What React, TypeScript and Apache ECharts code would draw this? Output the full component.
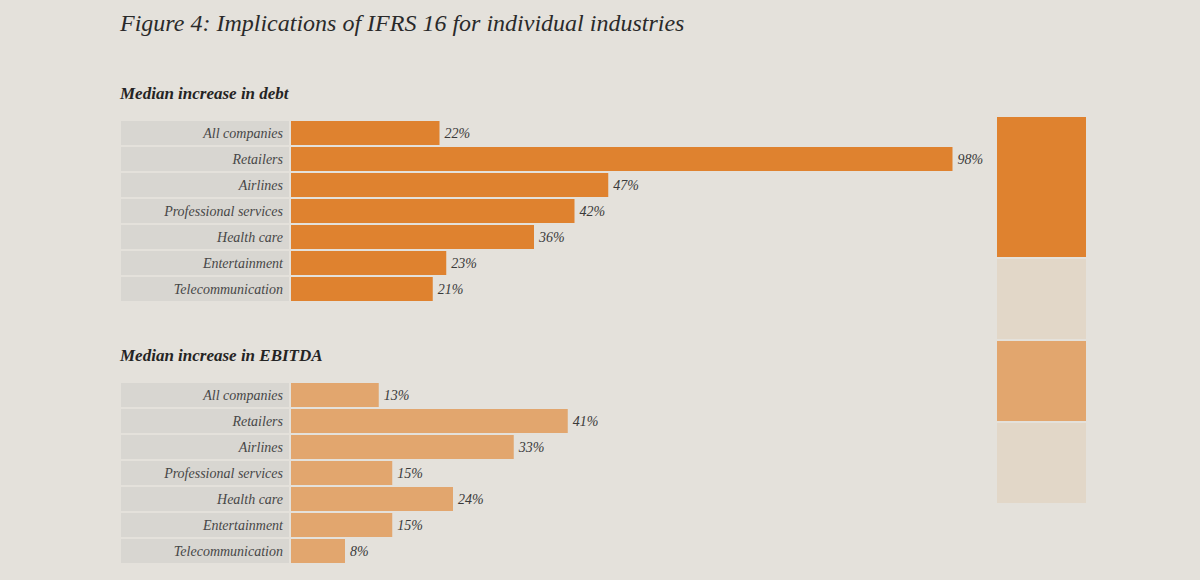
import React, { useEffect, useRef } from "react";
import * as echarts from "echarts";

// Industries shown in both panels, top to bottom
const industries = [
  "All companies",
  "Retailers",
  "Airlines",
  "Professional services",
  "Health care",
  "Entertainment",
  "Telecommunication",
];

// Median increase in debt (%)
const debtIncrease = [22, 98, 47, 42, 36, 23, 21];

// Median increase in EBITDA (%)
const ebitdaIncrease = [13, 41, 33, 15, 24, 15, 8];

const BG = "#e4e1db";
const CELL = "#d8d6d1";
const DEBT_COLOR = "#df822f";
const EBITDA_COLOR = "#e2a66e";
const PALE = "#e2d7c8";
const SERIF = "'Liberation Serif', 'DejaVu Serif', serif";

function panelAxes(gridIndex: number) {
  return {
    x: {
      type: "value" as const,
      gridIndex,
      min: 0,
      max: 100,
      show: false,
    },
    y: {
      type: "category" as const,
      gridIndex,
      data: industries,
      inverse: true,
      axisLine: { show: false },
      axisTick: { show: false },
      splitLine: { show: false },
      axisLabel: {
        margin: 2,
        align: "right" as const,
        width: 162,
        height: 24,
        lineHeight: 24,
        padding: [0, 6, 0, 0],
        backgroundColor: CELL,
        color: "#474747",
        fontFamily: SERIF,
        fontStyle: "italic" as const,
        fontSize: 14,
        overflow: "none" as const,
      },
    },
  };
}

function panelSeries(gridIndex: number, values: number[], color: string) {
  return {
    type: "bar" as const,
    xAxisIndex: gridIndex,
    yAxisIndex: gridIndex,
    data: values,
    barWidth: 24,
    itemStyle: { color },
    label: {
      show: true,
      position: "right" as const,
      distance: 5,
      formatter: "{c}%",
      color: "#3a3a3a",
      fontFamily: SERIF,
      fontStyle: "italic" as const,
      fontSize: 14,
    },
    silent: true,
  };
}

export default function App() {
  const ref = useRef<HTMLDivElement>(null);

  useEffect(() => {
    if (!ref.current) return;
    document.body.style.margin = "0";
    document.body.style.background = BG;
    const chart = echarts.init(ref.current, undefined, { renderer: "svg" });

    const debt = panelAxes(0);
    const ebitda = panelAxes(1);

    chart.setOption({
      animation: false,
      backgroundColor: BG,
      title: [
        {
          text: "Figure 4: Implications of IFRS 16 for individual industries",
          left: 120,
          top: 11,
          padding: 0,
          textStyle: {
            fontFamily: SERIF,
            fontStyle: "italic",
            fontWeight: "normal",
            fontSize: 24,
            color: "#2a2a2a",
          },
        },
        {
          text: "Median increase in debt",
          left: 120,
          top: 85,
          padding: 0,
          textStyle: {
            fontFamily: SERIF,
            fontStyle: "italic",
            fontWeight: "bold",
            fontSize: 17,
            color: "#242424",
          },
        },
        {
          text: "Median increase in EBITDA",
          left: 120,
          top: 347,
          padding: 0,
          textStyle: {
            fontFamily: SERIF,
            fontStyle: "italic",
            fontWeight: "bold",
            fontSize: 17,
            color: "#242424",
          },
        },
      ],
      grid: [
        { left: 291, top: 120, width: 675, height: 182 },
        { left: 291, top: 382, width: 675, height: 182 },
      ],
      xAxis: [debt.x, ebitda.x],
      yAxis: [debt.y, ebitda.y],
      series: [
        panelSeries(0, debtIncrease, DEBT_COLOR),
        panelSeries(1, ebitdaIncrease, EBITDA_COLOR),
      ],
      // Colour key panel on the right
      graphic: [
        { type: "rect", shape: { x: 997, y: 117, width: 89, height: 140 }, style: { fill: DEBT_COLOR }, silent: true },
        { type: "rect", shape: { x: 997, y: 259, width: 89, height: 80 }, style: { fill: PALE }, silent: true },
        { type: "rect", shape: { x: 997, y: 341, width: 89, height: 80 }, style: { fill: EBITDA_COLOR }, silent: true },
        { type: "rect", shape: { x: 997, y: 423, width: 89, height: 80 }, style: { fill: PALE }, silent: true },
      ],
    });

    return () => chart.dispose();
  }, []);

  return (
    <div
      ref={ref}
      style={{ position: "absolute", left: 0, top: 0, width: 1200, height: 580 }}
    />
  );
}
